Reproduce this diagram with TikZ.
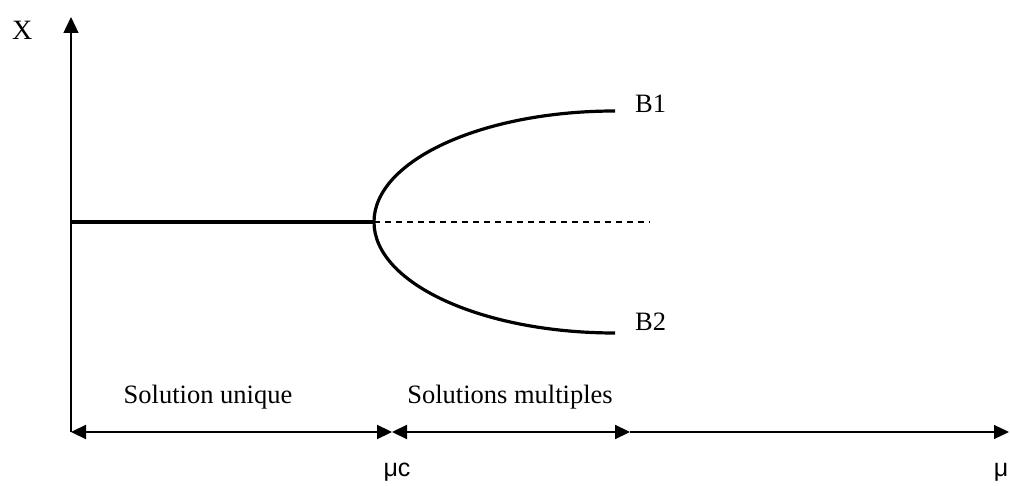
\documentclass[tikz,border=0pt]{standalone}
\usepackage{fontspec}
\setmainfont{Liberation Serif}
\newfontfamily\arialfont{Liberation Sans}
\usetikzlibrary{arrows.meta}
\begin{document}
\begin{tikzpicture}[x=1pt,y=-1pt,
  >={Triangle[length=15pt,width=14pt]},
  lbl/.style={inner sep=0pt,font=\fontsize{26.5}{30}\selectfont},
  slbl/.style={inner sep=0pt,font=\arialfont\fontsize{25}{28}\selectfont},
  axis/.style={line width=1.2pt},
  branch/.style={line width=3.2pt},
  span/.style={line width=2.2pt},
  unstable/.style={line width=1.5pt,dash pattern=on 6pt off 5pt}]
\useasboundingbox (0,0) rectangle (1010,486);
\coordinate (O) at (71,432);
\coordinate (Ytop) at (71,17);
\coordinate (Xend) at (1009,432);
\coordinate (C) at (392,432);
\coordinate (M) at (630,432);
\coordinate (S0) at (71,222);
\coordinate (V) at (374,222);
\coordinate (D) at (650,222);
\coordinate (B1e) at (615,111);
\coordinate (B2e) at (615,333);
% axes
\draw[axis,-{Triangle[length=16pt,width=15pt]}] (O) -- (Ytop);
\draw[axis,->] (M) -- (Xend);
\draw[span,<->] (O) -- (C);
\draw[span,<->] (C) -- (M);
% branches
\draw[branch] (S0) -- (V);
\draw[unstable] (V) -- (D);
\draw[branch] (B1e) arc[start angle=270,end angle=90,x radius=241,y radius=111];
% labels
\node[lbl,anchor=base west] (X) at (12,40) {\fontsize{28}{30}\selectfont X};
\node[lbl,anchor=base west] (B1) at (635,113) {B1};
\node[lbl,anchor=base west] (B2) at (635,331) {B2};
\node[lbl,anchor=base] (SU) at (208,404) {Solution unique};
\node[lbl,anchor=base] (SM) at (510,404) {Solutions multiples};
\node[slbl,anchor=base] (MUC) at (397,476) {μc};
\node[slbl,anchor=base] (MU) at (1001,476) {μ};
\end{tikzpicture}
\end{document}
